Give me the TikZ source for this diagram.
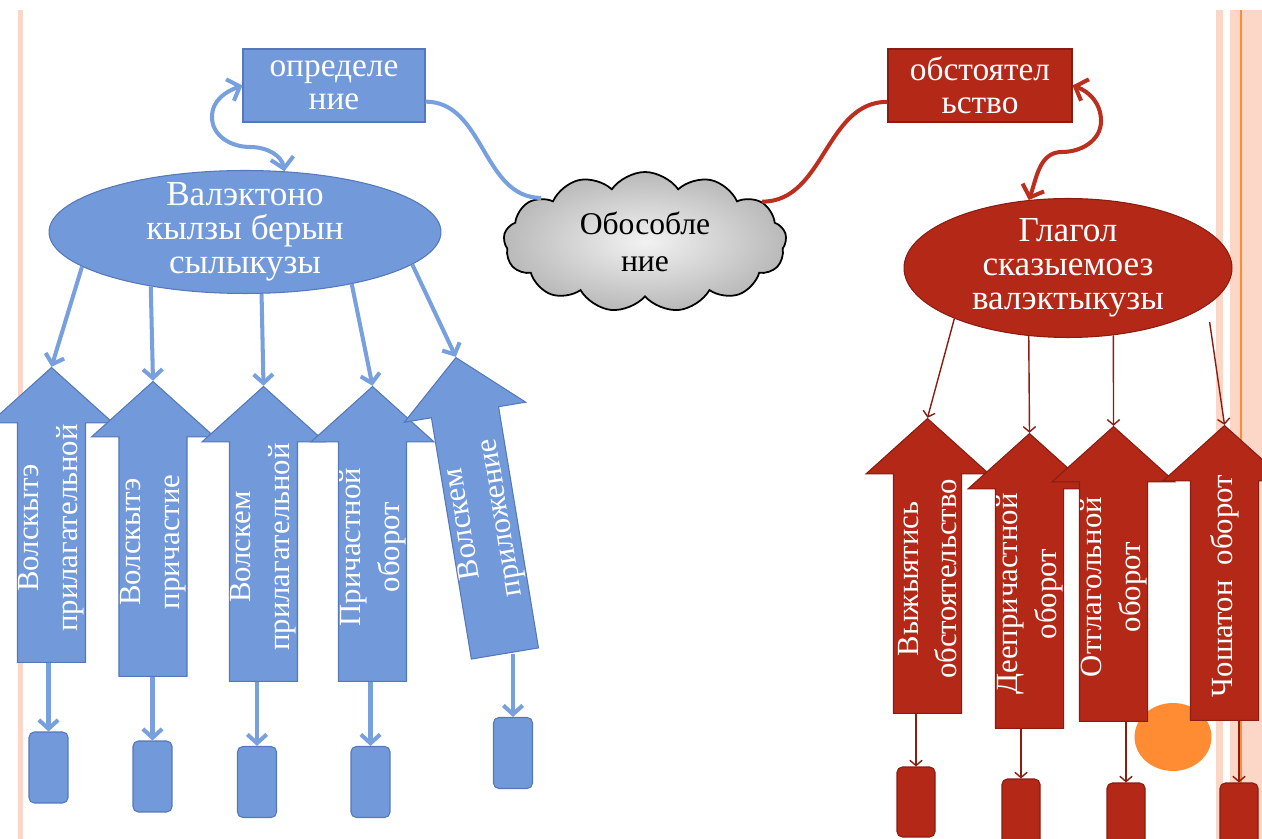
\documentclass[tikz,border=0pt]{standalone}
\usepackage{fontspec}
\setmainfont{Liberation Serif}
\usetikzlibrary{arrows.meta,calc,shapes.arrows,shapes.geometric,shapes.symbols}
\definecolor{bfill}{RGB}{114,153,218}
\definecolor{bline}{RGB}{84,120,186}
\definecolor{blink}{RGB}{120,160,223}
\definecolor{rfill}{RGB}{180,40,24}
\definecolor{rline}{RGB}{138,28,16}
\definecolor{rlink}{RGB}{188,46,30}
\definecolor{stripe}{RGB}{252,214,199}
\definecolor{dotorange}{RGB}{255,140,50}
\newcommand{\headfont}{\fontsize{19}{19}\selectfont}
\newcommand{\ovalfont}{\fontsize{20}{19.5}\selectfont}
\newcommand{\arrowfont}{\fontsize{17.5}{22}\selectfont}

\begin{document}
\begin{tikzpicture}[x=0.02cm,y=0.02cm,
    box/.style={rectangle,draw,line width=0.6pt,minimum width=3.64cm,minimum height=1.46cm,
                inner sep=1pt,align=center,text=white,font=\headfont},
    oval/.style={ellipse,draw,line width=0.6pt,align=center,text=white,font=\ovalfont,
                 inner xsep=0pt,inner ysep=-6pt},
    uparrow/.style={single arrow,draw,line width=0.6pt,anchor=tail,inner sep=0.67cm,
                    single arrow head extend=0.55cm,single arrow tip angle=96,minimum height=5.9cm},
    arrowtext/.style={align=center,text=white,font=\arrowfont,inner sep=0pt},
    stub/.style={rectangle,rounded corners=3pt,draw,line width=0.6pt,minimum width=0.78cm,minimum height=1.42cm},
    bluelink/.style={draw=blink,line width=2.3pt,-{Straight Barb[length=5pt,width=11pt]}},
    redlink/.style={draw=rline,line width=0.8pt,-{Straight Barb[length=3pt,width=7pt]}},
    wave/.style={line width=2.3pt}]
  \useasboundingbox (0,0) rectangle (1262,839);
  \clip (0,0) rectangle (1262,839);
  \fill[stripe] (18,0) rectangle (23,829);
  \fill[stripe] (1216,0) rectangle (1223,829);
  \fill[stripe] (1230,0) rectangle (1262,829);
  \draw[dotorange,line width=1pt] (1241,0) -- (1241,829);
  \fill[dotorange] (1173,102) ellipse [x radius=0.77cm,y radius=0.68cm];

  \node[box,fill=bfill,draw=bline] (opr) at (334,753.5) {определе\\ние};
  \node[box,fill=rfill,draw=rline,minimum width=3.68cm] (obs) at (980,753.5) {обстоятел\\ьство};
  \node[cloud,cloud puffs=13,cloud puff arc=110,cloud ignores aspect,draw,line width=1pt,
        inner color=gray!10,outer color=gray!55,minimum width=5.66cm,minimum height=2.8cm,
        align=center,font=\fontsize{18}{21}\selectfont] (obo) at (645,597) {Обособле\\ние};
  \node[oval,fill=bfill,draw=bline,minimum width=7.84cm,minimum height=2.46cm] (bov)
    at (245,607) {Валэктоно\\кылзы берын\\сылыкузы};
  \node[oval,fill=rfill,draw=rline,minimum width=6.56cm,minimum height=2.78cm] (rov)
    at (1068,571) {Глагол\\сказыемоез\\валэктыкузы};

  \node[uparrow,rotate=90,fill=bfill,draw=bline] (ba1) at (51.5,176) {};
  \node[uparrow,rotate=90,fill=bfill,draw=bline] (ba2) at (153,162) {};
  \node[uparrow,rotate=90,fill=bfill,draw=bline] (ba3) at (263.5,157) {};
  \node[uparrow,rotate=90,fill=bfill,draw=bline] (ba4) at (372.5,157) {};
  \node[uparrow,rotate=99.4,fill=bfill,draw=bline,minimum height=6cm] (ba5) at (505,185) {};
  \node[arrowtext,rotate=90] (bt1) at ($(ba1.tail)!2.7cm!(ba1.tip)$) {Волскытэ\\прилагательной};
  \node[arrowtext,rotate=90] (bt2) at ($(ba2.tail)!2.7cm!(ba2.tip)$) {Волскытэ\\причастие};
  \node[arrowtext,rotate=90] (bt3) at ($(ba3.tail)!2.7cm!(ba3.tip)$) {Волскем\\прилагательной};
  \node[arrowtext,rotate=90] (bt4) at ($(ba4.tail)!2.7cm!(ba4.tip)$) {Причастной\\оборот};
  \node[arrowtext,rotate=99.4] (bt5) at ($(ba5.tail)!2.7cm!(ba5.tip)$) {Волскем\\приложение};

  \node[uparrow,rotate=90,fill=rfill,draw=rline] (ra1) at (927.5,125) {};
  \node[uparrow,rotate=90,fill=rfill,draw=rline] (ra2) at (1029.5,110) {};
  \node[uparrow,rotate=90,fill=rfill,draw=rline] (ra3) at (1113.5,117) {};
  \node[uparrow,rotate=90,fill=rfill,draw=rline] (ra4) at (1224.5,118) {};
  \node[arrowtext,rotate=90] (rt1) at ($(ra1.tail)!2.7cm!(ra1.tip)$) {Выжыятись\\обстоятельство};
  \node[arrowtext,rotate=90] (rt2) at ($(ra2.tail)!2.7cm!(ra2.tip)$) {Деепричастной\\оборот};
  \node[arrowtext,rotate=90] (rt3) at ($(ra3.tail)!2.7cm!(ra3.tip)$) {Отглагольной\\оборот};
  \node[arrowtext,rotate=90] (rt4) at ($(ra4.tail)!2.7cm!(ra4.tip)$) {Чошатон\ \ оборот};

  \node[stub,fill=bfill,draw=bline] (bb1) at (48.5,71.5) {};
  \node[stub,fill=bfill,draw=bline] (bb2) at (152.5,62.5) {};
  \node[stub,fill=bfill,draw=bline] (bb3) at (257,57) {};
  \node[stub,fill=bfill,draw=bline] (bb4) at (370.5,57) {};
  \node[stub,fill=bfill,draw=bline] (bb5) at (513,86) {};
  \node[stub,fill=rfill,draw=rline,minimum width=0.76cm,minimum height=1.4cm] (rb1) at (916,37) {};
  \node[stub,fill=rfill,draw=rline,minimum width=0.76cm,minimum height=1.4cm] (rb2) at (1021,25) {};
  \node[stub,fill=rfill,draw=rline,minimum width=0.76cm,minimum height=1.4cm] (rb3) at (1126,21) {};
  \node[stub,fill=rfill,draw=rline,minimum width=0.76cm,minimum height=1.4cm] (rb4) at (1239,21) {};

  \draw[bluelink] (bov.192) -- (ba1.tip);
  \draw[bluelink] (bov.210) -- (ba2.tip);
  \draw[bluelink] (bov.-75) -- (ba3.tip);
  \draw[bluelink] (bov.-26) -- (ba4.tip);
  \draw[bluelink] (bov.-11) -- (ba5.tip);
  \draw[bluelink] (ba1.tail -| bb1.north) -- (bb1.north);
  \draw[bluelink] (ba2.tail -| bb2.north) -- (bb2.north);
  \draw[bluelink] (ba3.tail -| bb3.north) -- (bb3.north);
  \draw[bluelink] (ba4.tail -| bb4.north) -- (bb4.north);
  \draw[bluelink] (ba5.tail -| bb5.north) -- (bb5.north);

  \draw[redlink] (rov.204) -- (ra1.tip);
  \draw[redlink] (rov.240) -- (ra2.tip);
  \draw[redlink] (rov.-56) -- (ra3.tip);
  \draw[redlink,shorten <=0.34cm] (rov.-15) -- (ra4.tip);
  \draw[redlink] (ra1.tail -| rb1.north) -- (rb1.north);
  \draw[redlink] (ra2.tail -| rb2.north) -- (rb2.north);
  \draw[redlink] (ra3.tail -| rb3.north) -- (rb3.north);
  \draw[redlink] (ra4.tail -| rb4.north) -- (rb4.north);

  \draw[wave,draw=blink] (opr.-10) to[out=0,in=180] (obo.157);
  \draw[wave,draw=rlink] (obs.190) to[out=180,in=0] (obo.19);
  \draw[wave,draw=blink,{Straight Barb[length=6pt,width=13pt]}-{Straight Barb[length=6pt,width=13pt]}]
    (opr.west) to[out=200,in=90] (212,722) to[out=-90,in=180] (250,692) to[out=0,in=100] (bov.57);
  \draw[wave,draw=rlink,{Straight Barb[length=6pt,width=13pt]}-{Straight Barb[length=6pt,width=13pt]}]
    (obs.east) to[out=-20,in=90] (1101,718) to[out=-90,in=0] (1062,687) to[out=180,in=70] (rov.120);
\end{tikzpicture}
\end{document}
